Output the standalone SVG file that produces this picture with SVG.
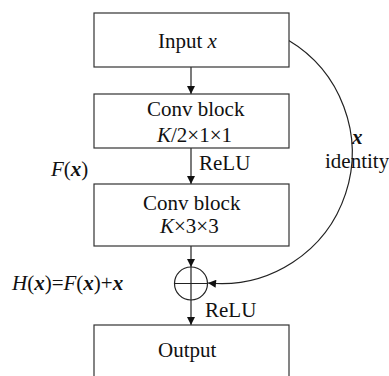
<svg xmlns="http://www.w3.org/2000/svg" width="389" height="376" viewBox="0 0 389 376">
<style>
.box{fill:#fff;stroke:#333;stroke-width:1.2}
.ln{fill:none;stroke:#222;stroke-width:1.2}
text{font-family:"Liberation Serif","Times New Roman",serif;font-size:21px;fill:#111}
.i{font-style:italic}
.bi{font-style:italic;font-weight:bold}
</style>
<defs>
<marker id="ah" viewBox="0 0 10 10" refX="10" refY="5" markerWidth="9" markerHeight="8" markerUnits="userSpaceOnUse" orient="auto">
<path d="M0,0 L10,5 L0,10 Z" fill="#111"/>
</marker>
</defs>
<rect width="389" height="376" fill="#fff"/>
<g id="connectors">
<line class="ln" x1="191" y1="67" x2="191" y2="94" marker-end="url(#ah)"/>
<line class="ln" x1="191" y1="148" x2="191" y2="184" marker-end="url(#ah)"/>
<line class="ln" x1="191" y1="246" x2="191" y2="267" marker-end="url(#ah)"/>
<line class="ln" x1="191" y1="300" x2="191" y2="325" marker-end="url(#ah)"/>
<path class="ln" d="M288,40 A131,131 0 0 1 208,283" marker-end="url(#ah)"/>
</g>
<g id="input">
<rect class="box" x="94" y="13" width="195" height="54"/>
<text x="158" y="48">Input <tspan class="i">x</tspan></text>
</g>
<g id="conv1">
<rect class="box" x="94" y="94" width="195" height="54"/>
<text x="147" y="116">Conv block</text>
<text x="157" y="142"><tspan class="i">K</tspan>/2×1×1</text>
</g>
<g id="conv2">
<rect class="box" x="94" y="184" width="195" height="62"/>
<text x="143" y="210">Conv block</text>
<text x="160" y="233"><tspan class="i">K</tspan>×3×3</text>
</g>
<g id="sum">
<circle cx="191" cy="283.5" r="16.5" fill="#fff" stroke="#222" stroke-width="1.2"/>
<line class="ln" x1="174.5" y1="283.5" x2="207.5" y2="283.5"/>
<line class="ln" x1="191" y1="267" x2="191" y2="300"/>
</g>
<g id="output">
<rect class="box" x="94" y="325" width="195" height="60"/>
<text x="158" y="357">Output</text>
</g>
<g id="labels">
<text x="199" y="170">ReLU</text>
<text x="205" y="317">ReLU</text>
<text x="51" y="176"><tspan class="i">F</tspan>(<tspan class="bi">x</tspan>)</text>
<text x="12" y="290"><tspan class="i">H</tspan>(<tspan class="bi">x</tspan>)=<tspan class="i">F</tspan>(<tspan class="bi">x</tspan>)+<tspan class="bi">x</tspan></text>
<text x="352" y="144" class="bi">x</text>
<text x="325" y="168">identity</text>
</g>
</svg>
